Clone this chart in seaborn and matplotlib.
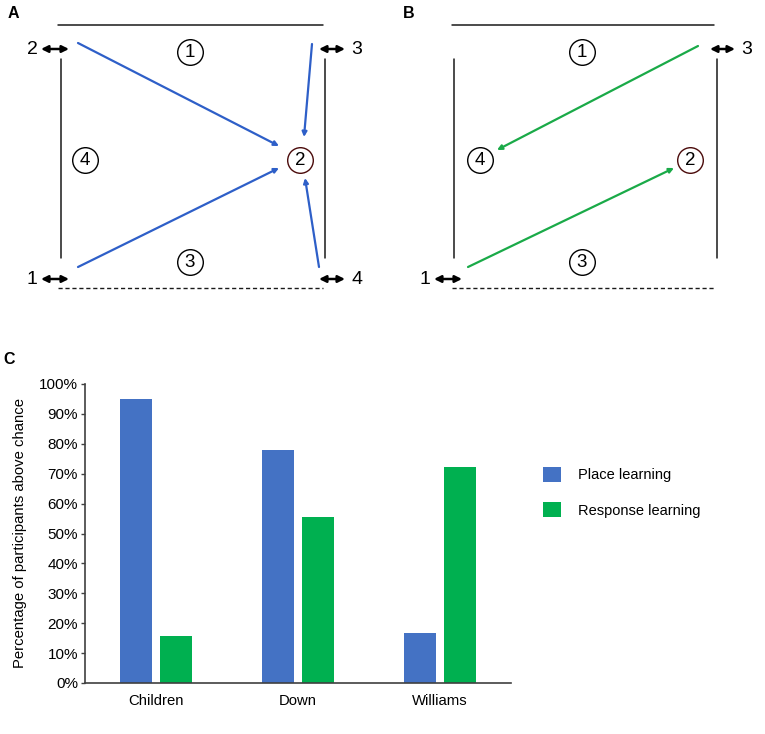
import numpy as np
import pandas as pd
import matplotlib
matplotlib.use("Agg")
import matplotlib.pyplot as plt
import seaborn as sns
from matplotlib.patches import Patch

# bar chart data (panel C)
groups = ["Children", "Down", "Williams"]
place_pct = [94.9, 77.8, 16.6]
response_pct = [15.7, 55.4, 72.2]
conditions = ["Place learning", "Response learning"]
bar_colors = ["#4472C4", "#00B050"]
yticks = [0, 10, 20, 30, 40, 50, 60, 70, 80, 90, 100]

# schematic maze layout for panels A and B (pixel coords, y down)
start_labels_a = [("2", 32, 49), ("3", 357, 49), ("1", 32, 279), ("4", 357, 279)]
start_arrows_a = [(41, 69, 49), (319, 345, 49), (41, 69, 279), (319, 345, 279)]
circles_a = [("1", 190, 52), ("4", 85, 160), ("2", 300, 160), ("3", 190, 262)]
paths_a = [((78, 43), (279, 146)), ((78, 267), (279, 168)),
           ((312, 44), (304, 137)), ((319, 267), (305, 178))]

start_labels_b = [("3", 747, 49), ("1", 425, 279)]
start_arrows_b = [(710, 735, 49), (434, 462, 279)]
circles_b = [("1", 582, 52), ("4", 480, 160), ("2", 690, 160), ("3", 582, 262)]
paths_b = [((698, 46), (497, 150)), ((468, 267), (674, 168))]

W, H = 765, 734
sns.set_theme(style="white")
plt.rcParams["font.family"] = ["Liberation Sans", "DejaVu Sans"]
plt.rcParams["text.color"] = "black"
plt.rcParams["xtick.color"] = "black"
plt.rcParams["ytick.color"] = "black"
plt.rcParams["axes.labelcolor"] = "black"

fig = plt.figure(figsize=(W / 100, H / 100), dpi=100)

# ---------------- panels A and B ----------------
ov = fig.add_axes([0, 0, 1, 1])
ov.set_xlim(0, W)
ov.set_ylim(H, 0)
ov.axis("off")


def draw_maze(x0, x1, wall_l, wall_r, labels, arrows, circles, paths, col):
    wall_kw = dict(color="#1a1a1a", lw=1.1)
    ov.plot([x0, x1], [25, 25], **wall_kw)
    ov.plot([wall_l, wall_l], [59, 258], **wall_kw)
    ov.plot([wall_r, wall_r], [59, 258], **wall_kw)
    ov.plot([x0, x1], [288, 288], color="#1a1a1a", lw=1.0, ls=(0, (3, 2)))
    for t, x, y in labels:
        ov.text(x, y, t, fontsize=14, ha="center", va="center")
    for xa, xb, y in arrows:
        ov.annotate("", xy=(xb, y), xytext=(xa, y),
                    arrowprops=dict(arrowstyle="<|-|>", color="black", lw=1.8,
                                    mutation_scale=10, shrinkA=0, shrinkB=0))
    for t, x, y in circles:
        edge = "#4a0a0a" if t == "2" else "black"
        ov.scatter([x], [y], s=340, facecolor="white", edgecolor=edge,
                   linewidth=1.0, zorder=3)
        ov.text(x, y + 0.5, t, fontsize=13.5, ha="center", va="center", zorder=4)
    for (xa, ya), (xb, yb) in paths:
        ov.annotate("", xy=(xb, yb), xytext=(xa, ya),
                    arrowprops=dict(arrowstyle="-|>", color=col, lw=1.6,
                                    mutation_scale=7, shrinkA=0, shrinkB=0))


draw_maze(58, 323, 61, 325, start_labels_a, start_arrows_a, circles_a,
          paths_a, "#2E5FC8")
draw_maze(452, 714, 454, 717, start_labels_b, start_arrows_b, circles_b,
          paths_b, "#1AAA48")

ov.text(13, 13, "A", fontsize=11.5, fontweight="bold", ha="center", va="center")
ov.text(409, 14, "B", fontsize=11.5, fontweight="bold", ha="center", va="center")
ov.text(9, 359, "C", fontsize=11.5, fontweight="bold", ha="center", va="center")

# ---------------- panel C ----------------
df = pd.DataFrame({
    "group": groups * 2,
    "value": place_pct + response_pct,
    "condition": [conditions[0]] * 3 + [conditions[1]] * 3,
})

ax = fig.add_axes([85 / W, (H - 683) / H, (511 - 85) / W, (683 - 384) / H])
sns.barplot(data=df, x="group", y="value", hue="condition",
            palette=bar_colors, saturation=1, width=0.563, gap=0.2, ax=ax,
            edgecolor="none", linewidth=0, legend=False)
ax.set_xlim(-0.5, 2.5)
ax.set_ylim(0, 100)
ax.set_yticks(yticks)
ax.set_yticklabels([f"{v}%" for v in yticks], fontsize=11)
ax.tick_params(axis="x", length=0, labelsize=10.7, pad=8)
ax.tick_params(axis="y", length=3, width=1, color="#404040", pad=2, left=True)
ax.set_xlabel("")
ax.set_ylabel("Percentage of participants above chance", fontsize=10.7)
ax.yaxis.set_label_coords(-0.136, 0.5)
for s in ["top", "right"]:
    ax.spines[s].set_visible(False)
for s in ["left", "bottom"]:
    ax.spines[s].set_color("#404040")
    ax.spines[s].set_linewidth(1.2)

handles = [Patch(facecolor=c, edgecolor="none") for c in bar_colors]
fig.legend(handles, conditions, loc="upper left",
           bbox_to_anchor=(531 / W, 1 - 455 / H), frameon=False,
           fontsize=10.5, handlelength=1.25, handleheight=1.25,
           handletextpad=1.15, labelspacing=1.35, borderpad=0.3)

fig.savefig("out.png", dpi=100, facecolor="white")
